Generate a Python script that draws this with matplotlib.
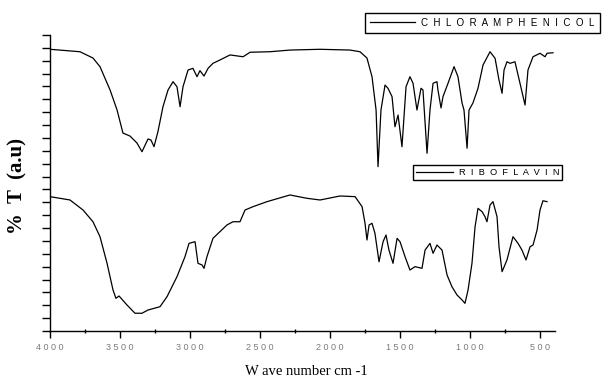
import matplotlib.pyplot as plt
import numpy as np
from matplotlib.ticker import MultipleLocator

# FTIR spectra (wavenumber in cm-1, transmittance in arbitrary units)
chlor_wn = [4000, 3786, 3693, 3643, 3571, 3521, 3479, 3429, 3379, 3343, 3300, 3279,
            3257, 3229, 3193, 3157, 3121, 3093, 3071, 3050, 3014, 2979, 2950, 2929,
            2900, 2871, 2836, 2786, 2714, 2621, 2571, 2429, 2286, 2071, 1857, 1786,
            1736, 1700, 1671, 1657, 1636, 1607, 1586, 1557, 1536, 1514, 1486, 1457,
            1429, 1407, 1379, 1350, 1336, 1307, 1286, 1264, 1236, 1229, 1207, 1193,
            1157, 1114, 1086, 1057, 1043, 1021, 1007, 979, 943, 907, 857, 821,
            793, 771, 757, 736, 714, 679, 643, 607, 586, 550, 500, 464, 450, 407]
chlor_t = [21.89, 21.70, 21.21, 20.54, 18.73, 17.17, 15.38, 15.15, 14.61, 13.93, 14.92, 14.84,
           14.32, 15.49, 17.43, 18.73, 19.37, 18.98, 17.43, 18.98, 20.28, 20.41, 19.76, 20.23,
           19.81, 20.41, 20.80, 21.06, 21.45, 21.31, 21.66, 21.70, 21.83, 21.89, 21.83, 21.70,
           21.21, 19.76, 17.17, 12.77, 17.17, 19.11, 18.86, 18.21, 15.87, 16.78, 14.32, 18.98,
           19.76, 19.25, 17.17, 18.86, 18.73, 13.81, 17.17, 19.25, 19.37, 18.73, 17.33, 18.21,
           19.25, 20.54, 19.76, 17.72, 17.17, 14.20, 17.17, 17.72, 18.86, 20.67, 21.70, 21.19,
           19.50, 18.47, 20.28, 20.92, 20.80, 20.92, 19.25, 17.56, 20.28, 21.31, 21.58, 21.31, 21.58, 21.62]

ribo_wn = [4000, 3857, 3764, 3693, 3643, 3593, 3550, 3529, 3507, 3450, 3393, 3343,
           3300, 3214, 3164, 3093, 3036, 3007, 2964, 2943, 2914, 2900, 2879, 2836,
           2736, 2693, 2643, 2607, 2550, 2450, 2286, 2164, 2071, 1929, 1821, 1771,
           1750, 1736, 1721, 1700, 1679, 1650, 1621, 1600, 1579, 1550, 1521, 1500,
           1464, 1429, 1393, 1343, 1321, 1286, 1264, 1236, 1200, 1164, 1129, 1093,
           1057, 1036, 1014, 986, 964, 943, 914, 893, 879, 857, 836, 807,
           793, 771, 736, 693, 657, 629, 600, 571, 550, 521, 500, 479, 450]
ribo_t = [10.44, 10.18, 9.40, 8.49, 7.33, 5.28, 3.19, 2.54, 2.72, 2.02, 1.38, 1.38,
          1.63, 1.89, 2.67, 4.22, 5.77, 6.81, 6.94, 5.26, 5.13, 4.87, 5.77, 7.20,
          8.24, 8.49, 8.49, 9.40, 9.66, 10.05, 10.57, 10.31, 10.18, 10.49, 10.44, 9.66,
          8.37, 7.07, 8.24, 8.37, 7.59, 5.38, 6.94, 7.46, 6.29, 5.26, 7.20, 6.94,
          5.77, 4.74, 5.00, 4.87, 6.29, 6.81, 6.04, 6.68, 6.29, 4.35, 3.44, 2.80,
          2.41, 2.15, 3.19, 5.26, 8.10, 9.53, 9.27, 8.88, 8.49, 9.79, 10.05, 8.88,
          6.55, 4.61, 5.52, 7.33, 6.81, 6.29, 5.52, 6.55, 6.68, 7.85, 9.40, 10.12, 10.05]

xticks = [4000, 3500, 3000, 2500, 2000, 1500, 1000, 500]
xtick_labels = ['4 0 0 0', '3 5 0 0', '3 0 0 0', '2 5 0 0', '2 0 0 0', '1 5 0 0', '1 0 0 0', '5 0 0']

fig = plt.figure(figsize=(6.08, 3.85), dpi=100)
ax = fig.add_axes([50 / 608, 54 / 385, 505 / 608, 296 / 385])

l1, = ax.plot(chlor_wn, chlor_t, color='black', lw=0.9)
l2, = ax.plot(ribo_wn, ribo_t, color='black', lw=0.9)

ax.set_xlim(4000, 393)
ax.set_ylim(0, 23)

# only left and bottom spines
for s in ['top', 'right']:
    ax.spines[s].set_visible(False)
for s in ['left', 'bottom']:
    ax.spines[s].set_linewidth(1.0)

ax.set_xticks(xticks)
ax.set_xticklabels(xtick_labels, fontsize=6.5, color='#7a7a7a', family='Liberation Sans')
ax.xaxis.set_minor_locator(MultipleLocator(250))
ax.tick_params(axis='x', which='major', direction='out', length=5, width=1, pad=4)
ax.tick_params(axis='x', which='minor', direction='inout', length=3, width=1)

ax.yaxis.set_major_locator(MultipleLocator(1))
ax.tick_params(axis='y', which='major', direction='out', length=6, width=1, labelleft=False)

ax.set_ylabel('%  T  (a.u)', family='Liberation Serif', fontweight='bold', fontsize=15)
ax.yaxis.set_label_coords(-0.045, 0.49)
ax.set_xlabel('W ave number cm -1', family='Liberation Serif', fontsize=10.5)
ax.xaxis.set_label_coords(0.507, -0.115)

# two separate boxed legends
leg_kw = dict(frameon=True, fancybox=False, framealpha=1, edgecolor='black',
              borderaxespad=0, bbox_transform=fig.transFigure)
leg1 = ax.legend([l1], ['C  H  L  O  R  A  M  P  H  E  N  I  C  O  L'],
                 loc='upper left', bbox_to_anchor=(365 / 608, 1 - 13 / 385),
                 borderpad=0.5, handlelength=4.6, handletextpad=0.7,
                 prop={'family': 'Liberation Sans', 'size': 7}, **leg_kw)
leg1.get_frame().set_linewidth(1.0)
ax.add_artist(leg1)
leg2 = ax.legend([l2], ['R  I  B  O  F  L  A  V  I  N'],
                 loc='upper left', bbox_to_anchor=(413 / 608, 1 - 165 / 385),
                 borderpad=0.3, handlelength=4.0, handletextpad=0.6,
                 prop={'family': 'Liberation Sans', 'size': 6.7}, **leg_kw)
leg2.get_frame().set_linewidth(1.0)

fig.savefig('out.png', dpi=100)
